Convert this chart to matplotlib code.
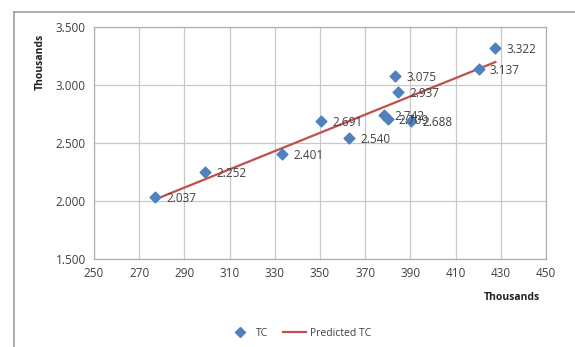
import matplotlib.pyplot as plt
from matplotlib.lines import Line2D
import numpy as np

plt.rcParams['font.family'] = ['Open Sans', 'DejaVu Sans']

# values in thousands
tc_x = [277.2, 299.3, 333.3, 350.6, 363.0, 378.2, 380.0, 390.3, 383.4, 384.6, 420.2, 427.6]
tc_y = [2.037, 2.252, 2.401, 2.691, 2.540, 2.742, 2.709, 2.688, 3.075, 2.937, 3.137, 3.322]
pred_x = [277.2, 427.6]
pred_y = [2.015, 3.198]
xticks = np.arange(250, 451, 20)
yticks = [1.5, 2.0, 2.5, 3.0, 3.5]

blue = '#4f81bd'
red = '#c0504d'
txt = '#404040'

fig = plt.figure(figsize=(5.75, 3.47), dpi=100)
ax = fig.add_axes([94 / 575, 1 - 259 / 347, (546 - 94) / 575, (259 - 27) / 347])

ax.plot(pred_x, pred_y, color=red, lw=1.6, zorder=2, label='Predicted TC')
ax.scatter(tc_x, tc_y, marker='D', s=30, color=blue, zorder=3, label='TC')

for x, y in zip(tc_x, tc_y):
    ax.annotate(f'{y:.3f}', (x, y), xytext=(8, -1), textcoords='offset points',
                ha='left', va='center', fontsize=8.5, color=txt, zorder=4)

ax.set_xlim(250, 450)
ax.set_ylim(1.5, 3.5)
ax.set_xticks(xticks)
ax.set_yticks(yticks)
ax.set_xticklabels([str(v) for v in xticks])
ax.set_yticklabels([f'{v:.3f}' for v in yticks])
ax.tick_params(length=0, labelsize=8.5, colors=txt, pad=6)
ax.grid(True, color='#c8c8c8', lw=0.9)
ax.set_axisbelow(True)
for s in ax.spines.values():
    s.set_color('#b0b0b0')
    s.set_linewidth(0.9)

fig.text(40 / 575, 1 - 62 / 347, 'Thousands', rotation=90, ha='center', va='center',
         fontsize=7.5, fontweight='bold', color='#202020')
fig.text(512 / 575, 1 - 297 / 347, 'Thousands', ha='center', va='center',
         fontsize=7.5, fontweight='bold', color='#202020')

handles = [Line2D([], [], marker='D', ls='none', color=blue, markersize=5),
           Line2D([], [], color=red, lw=1.6)]
fig.legend(handles, ['TC', 'Predicted TC'], loc='center', bbox_to_anchor=(300 / 575, 1 - 333 / 347),
           ncol=2, frameon=False, fontsize=7.5, handlelength=2.2, columnspacing=1.5,
           handletextpad=0.4, labelcolor=txt)

# outer chart border (partly cropped)
fig.add_artist(Line2D([14 / 575, 14 / 575], [0, 1 - 12 / 347], transform=fig.transFigure,
                      color='#a0a0a0', lw=1.2))
fig.add_artist(Line2D([14 / 575, 1], [1 - 12 / 347, 1 - 12 / 347], transform=fig.transFigure,
                      color='#a0a0a0', lw=1.2))

fig.savefig('out.png', dpi=100)
